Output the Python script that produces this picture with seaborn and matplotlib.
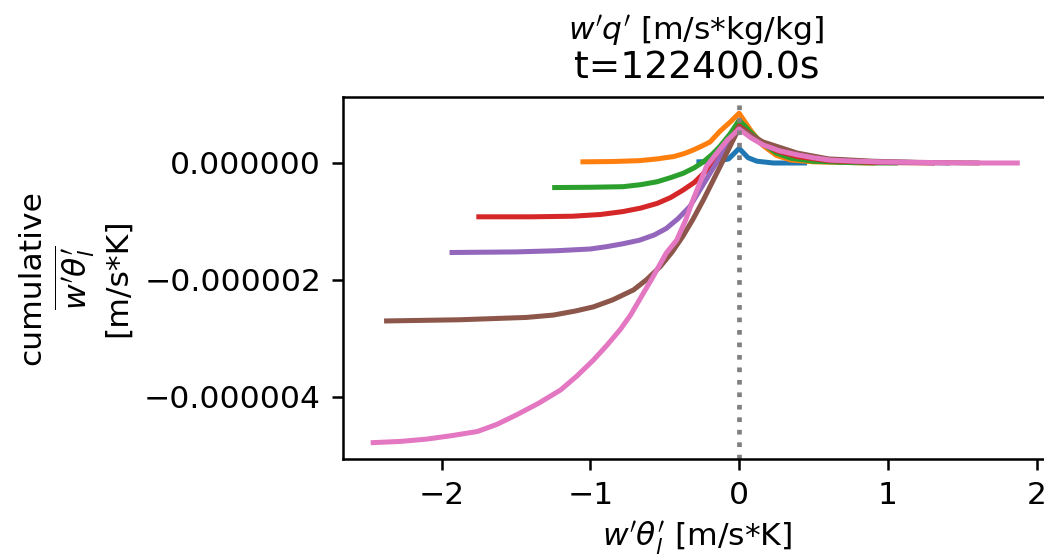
import matplotlib
matplotlib.use("Agg")
import matplotlib.pyplot as plt
import matplotlib.ticker as mticker
import numpy as np
import pandas as pd
import seaborn as sns

# ---- data (x in m/s*K, y in 1e-6 m/s*K) ----
s0_x = [-0.27, -0.15, -0.07, 0.0, 0.06, 0.12, 0.23, 0.44]
s0_y = [0.02, 0.03, 0.07, 0.25, 0.09, 0.03, 0.0, 0.0]

s1_x = [-1.05, -0.85, -0.67, -0.55, -0.44, -0.37, -0.31, -0.25, -0.195, -0.13, -0.06, 0.0,
        0.08, 0.16, 0.25, 0.35, 0.5, 0.7, 0.9]
s1_y = [0.02, 0.025, 0.04, 0.07, 0.11, 0.16, 0.22, 0.29, 0.36, 0.54, 0.7, 0.85,
        0.55, 0.3, 0.13, 0.05, 0.02, 0.01, 0.0]

s2_x = [-1.24, -1.0, -0.78, -0.66, -0.55, -0.46, -0.375, -0.30, -0.24, -0.18, -0.13, -0.06, 0.0,
        0.08, 0.16, 0.25, 0.35, 0.5, 0.7, 0.9, 1.05]
s2_y = [-0.42, -0.415, -0.405, -0.37, -0.32, -0.25, -0.175, -0.08, 0.02, 0.15, 0.28, 0.5, 0.73,
        0.52, 0.33, 0.17, 0.08, 0.03, 0.01, 0.0, 0.0]

s3_x = [-1.75, -1.4, -1.12, -0.93, -0.78, -0.66, -0.55, -0.46, -0.375, -0.30, -0.24, -0.18, -0.13,
        -0.06, 0.0, 0.08, 0.16, 0.25, 0.39, 0.6, 0.9, 1.3]
s3_y = [-0.92, -0.92, -0.91, -0.88, -0.83, -0.77, -0.69, -0.59, -0.46, -0.33, -0.18, -0.03, 0.11,
        0.38, 0.63, 0.48, 0.34, 0.21, 0.11, 0.04, 0.01, 0.0]

s4_x = [-1.93, -1.5, -1.23, -1.0, -0.89, -0.78, -0.67, -0.57, -0.49, -0.41, -0.33, -0.17, 0.0,
        0.16, 0.39, 0.6, 0.9, 1.4]
s4_y = [-1.53, -1.52, -1.50, -1.47, -1.43, -1.38, -1.32, -1.23, -1.12, -0.95, -0.74, -0.07, 0.6,
        0.33, 0.15, 0.06, 0.02, 0.0]

s5_x = [-2.37, -1.88, -1.43, -1.25, -1.10, -0.98, -0.85, -0.71, -0.62, -0.53, -0.45, -0.38, -0.31,
        -0.24, -0.12, 0.0, 0.16, 0.39, 0.6, 0.9, 1.2, 1.6]
s5_y = [-2.70, -2.68, -2.64, -2.60, -2.53, -2.46, -2.34, -2.17, -1.99, -1.77, -1.52, -1.26, -0.96,
        -0.63, -0.02, 0.6, 0.36, 0.17, 0.07, 0.03, 0.01, 0.0]

s6_x = [-2.46, -2.28, -2.10, -1.93, -1.76, -1.63, -1.50, -1.35, -1.20, -1.09, -0.98, -0.89, -0.80,
        -0.73, -0.67, -0.58, -0.49, -0.42, -0.36, -0.31, -0.22, -0.15, -0.08, 0.0,
        0.08, 0.16, 0.27, 0.39, 0.5, 0.61, 0.78, 0.95, 1.2, 1.4, 1.65, 1.87]
s6_y = [-4.78, -4.76, -4.72, -4.66, -4.59, -4.47, -4.31, -4.11, -3.88, -3.64, -3.37, -3.12, -2.85,
        -2.60, -2.34, -1.95, -1.54, -1.32, -0.98, -0.63, -0.06, 0.17, 0.39, 0.58,
        0.43, 0.31, 0.21, 0.14, 0.09, 0.05, 0.03, 0.02, 0.01, 0.005, 0.0, 0.0]

series_x = [s0_x, s1_x, s2_x, s3_x, s4_x, s5_x, s6_x]
series_y = [s0_y, s1_y, s2_y, s3_y, s4_y, s5_y, s6_y]
names = [f"s{i}" for i in range(7)]
y_unit = 1e-6

title_top = "$w'q'$ [m/s*kg/kg]"
title_main = "t=122400.0s"
xlabel = "$w'\\theta_l'$ [m/s*K]"
ylabel = "cumulative\n$\\overline{w'\\theta_l'}$\n[m/s*K]"

rows = []
for n, xs, ys in zip(names, series_x, series_y):
    for xv, yv in zip(xs, ys):
        rows.append({"series": n, "x": xv, "y": yv * y_unit})
df = pd.DataFrame(rows)

W, H, DPI = 1044, 554, 226
fig = plt.figure(figsize=(W / DPI, H / DPI), dpi=DPI)
left, right, top, bottom = 343 / W, 1050 / W, 1 - 97 / H, 1 - 459 / H
ax = fig.add_axes([left, bottom, right - left, top - bottom])

palette = sns.color_palette("tab10", 7)
sns.lineplot(data=df, x="x", y="y", hue="series", hue_order=names, palette=palette,
             estimator=None, sort=False, legend=False, lw=1.6, ax=ax)
ax.axvline(0, color="gray", ls=":", lw=1.5)

ax.set_xlim(-2.663, 2.09)
ax.set_ylim(-5.06e-6, 1.128e-6)
ax.xaxis.set_major_locator(mticker.MultipleLocator(1))
ax.yaxis.set_major_locator(mticker.MultipleLocator(2e-6))

def yfmt(v, pos):
    if abs(v) < 1e-12:
        v = 0.0
    return f"{v:.6f}".replace("-", "\u2212")
ax.yaxis.set_major_formatter(mticker.FuncFormatter(yfmt))

ax.set_xlabel(xlabel, fontsize=10, labelpad=3)
ax.set_ylabel(ylabel, fontsize=10)
ax.set_title(title_main, fontsize=12)
fig.text(696 / W, 1 - 40 / H, title_top, ha="center", va="baseline", fontsize=10)

fig.savefig("out.png", dpi=DPI)
